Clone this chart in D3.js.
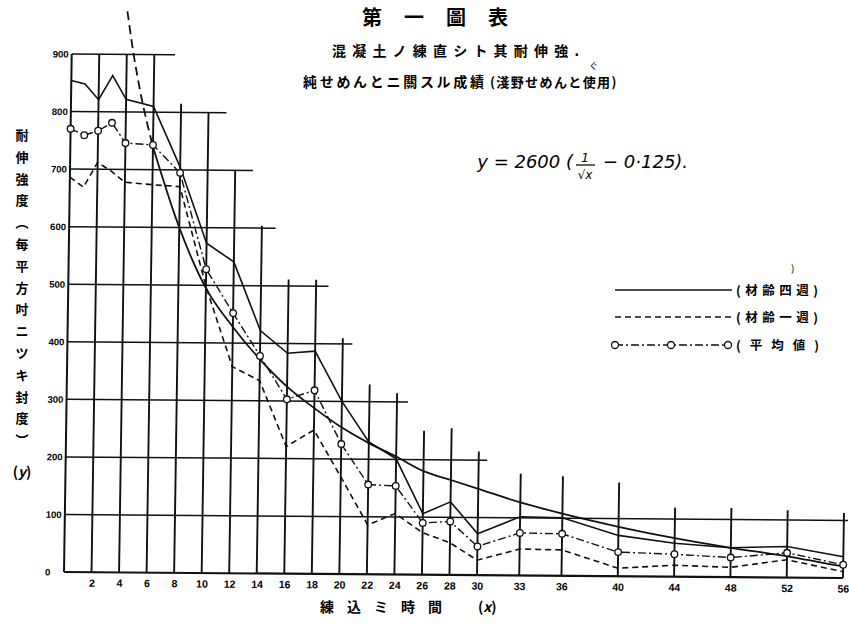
<!DOCTYPE html>
<html>
<head>
<meta charset="utf-8">
<script src="https://cdn.jsdelivr.net/npm/d3@7"></script>
<style>
  body { margin: 0; background: #fff; }
  svg { display: block; font-family: "Noto Sans CJK JP", sans-serif; }
</style>
</head>
<body>
<svg id="chart" width="849" height="629"></svg>
<script>
// mixing time (hours) and tensile strength (lb / sq in)
var hours   = [0, 1, 2, 3, 4, 6, 8, 10, 12, 14, 16, 18, 20, 22, 24, 26, 28, 30, 33, 36, 40, 44, 48, 52, 56];
var week4   = [854, 848, 821, 863, 822, 810, 705, 573, 541, 422, 383, 387, 300, 230, 201, 106, 127, 72, 102, 101, 71, 58, 51, 54, 37];
var week1   = [686, 669, 712, 697, 678, 674, 671, 498, 359, 335, 221, 250, 169, 86, 106, 73, 56, 26, 46, 45, 14, 20, 17, 31, 11];
var average = [770, 759, 767, 781, 746, 743, 695, 528, 452, 378, 303, 319, 226, 156, 154, 90, 93, 50, 74, 73, 42, 39, 34, 43, 23];

// y = 2600 (1/sqrt(x) - 0.125)
var curveX = [4, 4.5, 5, 6, 8, 10, 12, 14, 16, 18, 20, 22, 24, 26, 28, 30, 33, 36, 40, 44, 48, 52, 56];
var curveY = [975, 900, 838, 740, 600, 495, 428, 372, 325, 288, 255, 228, 205, 180, 165, 150, 127, 108, 86, 67, 51, 37, 20];

var xTicks = [2, 4, 6, 8, 10, 12, 14, 16, 18, 20, 22, 24, 26, 28, 30, 33, 36, 40, 44, 48, 52, 56];
var yTicks = [0, 100, 200, 300, 400, 500, 600, 700, 800, 900];
// stepped grid: how high each vertical rule goes, how far each horizontal rule goes
var vRuleTop = [900, 900, 900, 815, 800, 700, 604, 511, 511, 410, 330, 315, 250, 255, 215, 177, 173, 163, 120, 120, 117, 113];
var hRuleEnd = [56, 56.3, 30.6, 24.8, 20.7, 18.9, 15, 13.3, 11.3, 7.5];

var legendLabels = ["(材齢四週)", "(材齢一週)", "(平均値)"];
var yLabelChars = ["耐", "伸", "強", "度", "︵", "每", "平", "方", "吋", "ニ", "ツ", "キ", "封", "度", "︶"];

var svg = d3.select("#chart");
svg.append("rect").attr("width", 849).attr("height", 629).attr("fill", "#fff");

var x = d3.scaleLinear().domain([0, 30, 56]).range([64, 477, 843]);
var y = d3.scaleLinear().domain([0, 900]).range([572, 54]);

// the scanned sheet sits slightly askew
var k = 0.0149, m = 0.0077;
var plot = svg.append("g")
  .attr("transform", "matrix(1," + m + "," + (-k) + ",1," + (k * 572) + "," + (-m * 64) + ")");

plot.selectAll(".vrule").data(xTicks).enter().append("line")
  .attr("class", "vrule")
  .attr("x1", function(d) { return x(d); })
  .attr("x2", function(d) { return x(d); })
  .attr("y1", y(0))
  .attr("y2", function(d, i) { return y(vRuleTop[i]); })
  .attr("stroke", "#111").attr("stroke-width", 1.9);

plot.selectAll(".hrule").data(yTicks).enter().append("line")
  .attr("class", "hrule")
  .attr("x1", x(0))
  .attr("x2", function(d, i) { return x(hRuleEnd[i]); })
  .attr("y1", function(d) { return y(d); })
  .attr("y2", function(d) { return y(d); })
  .attr("stroke", "#111").attr("stroke-width", function(d) { return d === 0 ? 2.2 : 1.5; });

plot.append("line")
  .attr("x1", x(0)).attr("x2", x(0)).attr("y1", y(0)).attr("y2", y(900))
  .attr("stroke", "#111").attr("stroke-width", 2);

// axes (labels only)
var xAxis = plot.append("g").attr("transform", "translate(0," + y(0) + ")")
  .call(d3.axisBottom(x).tickValues(xTicks).tickSize(0).tickPadding(7));
xAxis.select(".domain").remove();
xAxis.attr("font-family", "Liberation Sans, sans-serif").attr("font-size", 10.5).attr("font-weight", "bold");

var yAxis = plot.append("g").attr("transform", "translate(" + x(0) + ",0)")
  .call(d3.axisLeft(y).tickValues(yTicks).tickSize(0));
yAxis.select(".domain").remove();
yAxis.attr("font-family", "Liberation Sans, sans-serif").attr("font-size", 9.5).attr("font-weight", "bold");
yAxis.selectAll("text").attr("x", -19).attr("text-anchor", "start");

// series
var line = d3.line()
  .x(function(d) { return x(d[0]); })
  .y(function(d) { return y(d[1]); });

var pts4 = hours.map(function(h, i) { return [h, week4[i]]; });
var pts1 = hours.map(function(h, i) { return [h, week1[i]]; });
var ptsA = hours.map(function(h, i) { return [h, average[i]]; });
var ptsC = curveX.map(function(h, i) { return [h, curveY[i]]; });

var smooth = d3.line()
  .x(function(d) { return x(d[0]); })
  .y(function(d) { return y(d[1]); })
  .curve(d3.curveMonotoneX);

plot.append("path").attr("d", smooth(ptsC.filter(function(d) { return d[0] <= 6; })))
  .attr("fill", "none").attr("stroke", "#111").attr("stroke-width", 1.8).attr("stroke-dasharray", "9,5");
plot.append("path").attr("d", smooth(ptsC.filter(function(d) { return d[0] >= 6; })))
  .attr("fill", "none").attr("stroke", "#111").attr("stroke-width", 1.8);

plot.append("path").attr("d", line(pts4))
  .attr("fill", "none").attr("stroke", "#111").attr("stroke-width", 1.6);
plot.append("path").attr("d", line(pts1))
  .attr("fill", "none").attr("stroke", "#111").attr("stroke-width", 1.6).attr("stroke-dasharray", "6,4");
plot.append("path").attr("d", line(ptsA))
  .attr("fill", "none").attr("stroke", "#111").attr("stroke-width", 1.4).attr("stroke-dasharray", "8,3,2,3");
plot.selectAll(".avg").data(ptsA).enter().append("circle")
  .attr("class", "avg")
  .attr("cx", function(d) { return x(d[0]); })
  .attr("cy", function(d) { return y(d[1]); })
  .attr("r", 3.3)
  .attr("fill", "#fff").attr("stroke", "#111").attr("stroke-width", 1.3);

// titles
svg.append("text").attr("x", 362).attr("y", 25)
  .attr("font-size", 20).attr("font-weight", "bold").attr("letter-spacing", 22)
  .text("第一圖表");
svg.append("text").attr("x", 332).attr("y", 56)
  .attr("font-size", 14).attr("font-weight", "bold").attr("letter-spacing", 6.2)
  .text("混凝土ノ練直シト其耐伸強.");
svg.append("text").attr("x", 303).attr("y", 87)
  .attr("font-size", 14).attr("font-weight", "bold").attr("letter-spacing", 2.7)
  .text("純せめんとニ關スル成績");
svg.append("text").attr("x", 490).attr("y", 87)
  .attr("font-size", 13).attr("font-weight", "bold").attr("letter-spacing", 1.4)
  .text("(淺野せめんと使用)");
svg.append("text").attr("x", 589).attr("y", 69)
  .attr("font-size", 9).text("ぐ");

// formula
var fx = svg.append("g").attr("font-family", "DejaVu Sans, sans-serif").attr("font-style", "italic");
fx.append("text").attr("x", 573).attr("y", 168).attr("text-anchor", "end")
  .attr("font-size", 18).text("y = 2600 (");
fx.append("text").attr("x", 585).attr("y", 162).attr("text-anchor", "middle")
  .attr("font-size", 12).text("1");
fx.append("line").attr("x1", 576).attr("x2", 595).attr("y1", 165).attr("y2", 165)
  .attr("stroke", "#111").attr("stroke-width", 1.3);
fx.append("text").attr("x", 585).attr("y", 179).attr("text-anchor", "middle")
  .attr("font-size", 12).text("√x");
fx.append("text").attr("x", 603).attr("y", 168)
  .attr("font-size", 18).text("− 0·125).");

// legend
var legendY = [290, 317, 345];
var legend = svg.append("g");
legend.append("line").attr("x1", 615).attr("x2", 732).attr("y1", legendY[0]).attr("y2", legendY[0])
  .attr("stroke", "#111").attr("stroke-width", 1.6);
legend.append("line").attr("x1", 615).attr("x2", 732).attr("y1", legendY[1]).attr("y2", legendY[1])
  .attr("stroke", "#111").attr("stroke-width", 1.6).attr("stroke-dasharray", "6,4");
legend.append("line").attr("x1", 615).attr("x2", 728).attr("y1", legendY[2]).attr("y2", legendY[2])
  .attr("stroke", "#111").attr("stroke-width", 1.4).attr("stroke-dasharray", "8,3,2,3");
legend.selectAll("circle").data([615, 671, 728]).enter().append("circle")
  .attr("cx", function(d) { return d; }).attr("cy", legendY[2]).attr("r", 3.5)
  .attr("fill", "#fff").attr("stroke", "#111").attr("stroke-width", 1.3);
legend.selectAll("text.lab").data(legendLabels).enter().append("text")
  .attr("class", "lab")
  .attr("x", 736)
  .attr("y", function(d, i) { return legendY[i] + 5; })
  .attr("font-size", 12.5).attr("font-weight", "bold")
  .attr("letter-spacing", function(d, i) { return i === 2 ? 9 : 4.5; })
  .text(function(d) { return d; });
svg.append("text").attr("x", 791).attr("y", 272).attr("font-size", 10).text(")");

// y axis title, vertical
svg.selectAll("text.ylab").data(yLabelChars).enter().append("text")
  .attr("class", "ylab")
  .attr("x", 22)
  .attr("y", function(d, i) { return 140 + i * 21.8; })
  .attr("text-anchor", "middle")
  .attr("font-size", 13).attr("font-weight", "bold")
  .text(function(d) { return d; });
svg.append("text").attr("x", 22).attr("y", 477).attr("text-anchor", "middle")
  .attr("font-size", 14).attr("font-weight", "bold")
  .html('(<tspan font-style="italic">y</tspan>)');

// x axis title
svg.append("text").attr("x", 320).attr("y", 612)
  .attr("font-size", 14).attr("font-weight", "bold").attr("letter-spacing", 13)
  .text("練込ミ時間");
svg.append("text").attr("x", 478).attr("y", 612)
  .attr("font-size", 14).attr("font-weight", "bold")
  .html('(<tspan font-style="italic">x</tspan>)');
</script>
</body>
</html>
